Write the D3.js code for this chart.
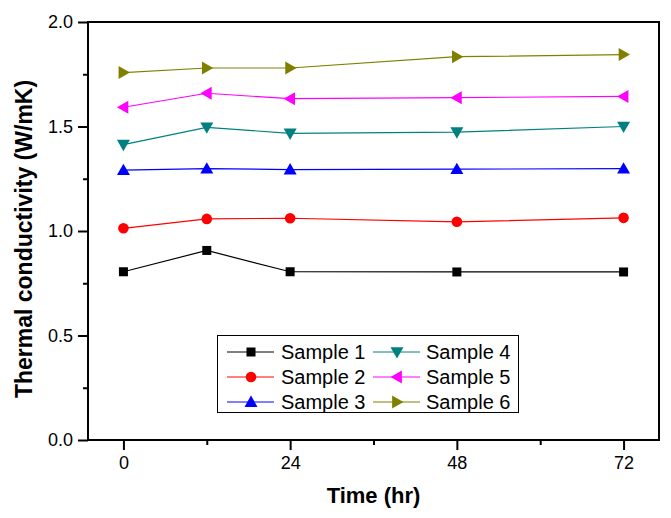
<!DOCTYPE html>
<html><head><meta charset="utf-8">
<script src="https://cdn.jsdelivr.net/npm/d3@7"></script>
<style>body{margin:0;background:#fff}svg{display:block}</style>
</head><body><svg id="c" width="671" height="518"></svg>
<script>
const times = [0, 12, 24, 48, 72];
const seriesNames = ["Sample 1","Sample 2","Sample 3","Sample 4","Sample 5","Sample 6"];
const s1 = [0.805, 0.907, 0.805, 0.804, 0.804];
const s2 = [1.013, 1.058, 1.061, 1.044, 1.063];
const s3 = [1.291, 1.298, 1.294, 1.296, 1.298];
const s4 = [1.413, 1.496, 1.467, 1.473, 1.500];
const s5 = [1.592, 1.659, 1.633, 1.638, 1.644];
const s6 = [1.758, 1.780, 1.780, 1.834, 1.844];
const colors = ["#000000","#ff0000","#0000ff","#008080","#ff00ff","#808000"];
const markers = ["square","circle","up","down","left","right"];
const xMajor = [0, 24, 48, 72];
const xMinor = [12, 36, 60];
const yMajor = [0, 0.5, 1.0, 1.5, 2.0];
const yMinor = [0.25, 0.75, 1.25, 1.75];
const allSeries = [s1,s2,s3,s4,s5,s6];

const svg = d3.select("#c");
const L = 88, R = 659, T = 22, B = 440;
const x = d3.scaleLinear().domain([-5.1, 77.1]).range([L, R]);
const y = d3.scaleLinear().domain([0, 2.0]).range([B, T]);
const font = "Arial, 'Liberation Sans', sans-serif";

// axes
const gx = svg.append("g").attr("transform", `translate(0,${B})`)
  .call(d3.axisBottom(x).tickValues(xMajor).tickSize(10).tickSizeOuter(0).tickPadding(6).tickFormat(d3.format("d")));
svg.append("g").attr("transform", `translate(0,${B})`)
  .call(d3.axisBottom(x).tickValues(xMinor).tickSize(5).tickSizeOuter(0).tickFormat(""));
const gy = svg.append("g").attr("transform", `translate(${L},0)`)
  .call(d3.axisLeft(y).tickValues(yMajor).tickSize(10).tickSizeOuter(0).tickPadding(5).tickFormat(d3.format(".1f")));
svg.append("g").attr("transform", `translate(${L},0)`)
  .call(d3.axisLeft(y).tickValues(yMinor).tickSize(5).tickSizeOuter(0).tickFormat(""));
svg.selectAll(".domain").remove();
svg.selectAll(".tick line").attr("stroke", "#000").attr("stroke-width", 2);
svg.selectAll(".tick text").attr("font-family", font).attr("font-size", 18).attr("fill", "#000");

// frame
svg.append("rect").attr("x", L).attr("y", T).attr("width", R - L).attr("height", B - T)
  .attr("fill", "none").attr("stroke", "#000").attr("stroke-width", 2);

// symbols
function sym(g, type, cx, cy, color) {
  const s = 6.5;
  let el;
  if (type === "square") el = g.append("rect").attr("x", cx-4.5).attr("y", cy-4.5).attr("width", 9).attr("height", 9);
  else if (type === "circle") el = g.append("circle").attr("cx", cx).attr("cy", cy).attr("r", 5.3);
  else {
    let pts;
    if (type === "up") pts = [[cx, cy-s],[cx-s, cy+s*0.75],[cx+s, cy+s*0.75]];
    else if (type === "down") pts = [[cx, cy+s],[cx-s, cy-s*0.75],[cx+s, cy-s*0.75]];
    else if (type === "left") pts = [[cx-s, cy],[cx+s*0.75, cy-s],[cx+s*0.75, cy+s]];
    else pts = [[cx+s, cy],[cx-s*0.75, cy-s],[cx-s*0.75, cy+s]];
    el = g.append("polygon").attr("points", pts.map(p => p.join(",")).join(" "));
  }
  el.attr("fill", color);
}

const line = d3.line().x((d, i) => x(times[i])).y(d => y(d));
allSeries.forEach((vals, k) => {
  const g = svg.append("g");
  g.append("path").attr("d", line(vals)).attr("fill", "none").attr("stroke", colors[k]).attr("stroke-width", 1.2);
  vals.forEach((v, i) => sym(g, markers[k], x(times[i]), y(v), colors[k]));
});

// legend
const lg = svg.append("g");
lg.append("rect").attr("x", 217.5).attr("y", 335.5).attr("width", 301).attr("height", 77)
  .attr("fill", "#fff").attr("stroke", "#000").attr("stroke-width", 1);
seriesNames.forEach((name, k) => {
  const col = Math.floor(k / 3), row = k % 3;
  const lx = col === 0 ? 227 : 373;
  const cy = 352 + row * 25;
  lg.append("line").attr("x1", lx).attr("x2", lx + 47).attr("y1", cy).attr("y2", cy)
    .attr("stroke", colors[k]).attr("stroke-width", 1);
  sym(lg, markers[k], lx + 24, cy, colors[k]);
  lg.append("text").attr("x", col === 0 ? 281 : 426).attr("y", cy + 7)
    .attr("font-family", font).attr("font-size", 20).attr("fill", "#000").text(name);
});

// titles
svg.append("text").attr("x", (L + R) / 2 - 0).attr("y", 503).attr("text-anchor", "middle")
  .attr("font-family", font).attr("font-weight", "bold").attr("font-size", 22).text("Time (hr)");
svg.append("text").attr("transform", `translate(32,${(78 + 400) / 2}) rotate(-90)`).attr("text-anchor", "middle")
  .attr("font-family", font).attr("font-weight", "bold").attr("font-size", 23).text("Thermal conductivity (W/mK)");
</script></body></html>
